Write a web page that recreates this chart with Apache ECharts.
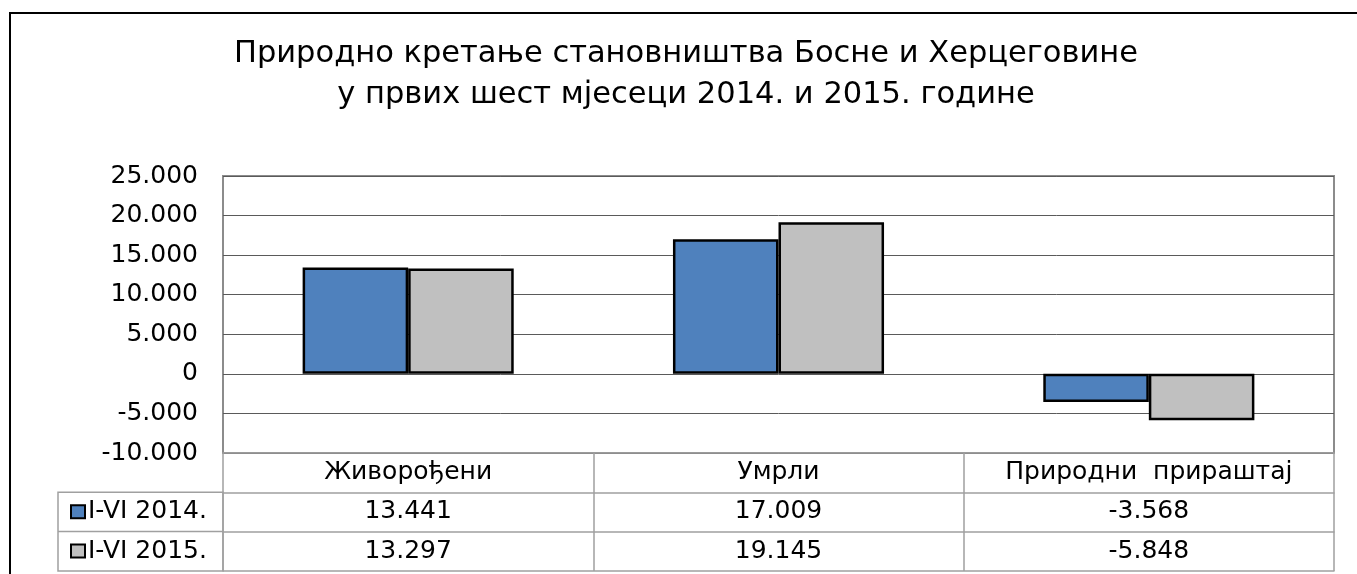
<!DOCTYPE html>
<html>
<head>
<meta charset="utf-8">
<script src="https://cdn.jsdelivr.net/npm/echarts@6/dist/echarts.min.js"></script>
<style>
html,body{margin:0;padding:0;background:#fff;}
#chart{width:1357px;height:574px;}
</style>
</head>
<body>
<div id="chart"></div>
<script>
// ---- data ----
var titleLines = ['Природно кретање становништва Босне и Херцеговине', 'у првих шест мјесеци 2014. и 2015. године'];
var categories = ['Живорођени', 'Умрли', 'Природни  прираштај'];
var seriesNames = ['I-VI 2014.', 'I-VI 2015.'];
var values2014 = [13441, 17009, -3568];
var values2015 = [13297, 19145, -5848];
var yMin = -10000, yMax = 25000, yStep = 5000;

// ---- layout ----
var W = 1357, H = 574;
var gL = 223, gR = 1334, gT = 176, gB = 453;
var rowH = 39.3;
var legL = 58;
var FONT = 'DejaVu Sans';
var lineCol = '#a0a0a0';
var txtCol = '#000';

function fmt(v) {
  var s = Math.abs(Math.round(v)).toString();
  var out = '';
  while (s.length > 3) { out = '.' + s.slice(-3) + out; s = s.slice(0, -3); }
  out = s + out;
  return (v < 0 ? '-' : '') + out;
}

var chart = echarts.init(document.getElementById('chart'), null, {renderer: 'canvas'});

function tableAxis(offsetRows, labelFn, showLabel) {
  return {
    type: 'category',
    gridIndex: 0,
    position: 'bottom',
    offset: offsetRows * rowH,
    data: categories,
    boundaryGap: true,
    axisLine: {show: true, onZero: false, lineStyle: {color: lineCol, width: 1.5}},
    axisTick: {show: showLabel, length: rowH, interval: 0, lineStyle: {color: lineCol, width: 1.5}},
    axisLabel: {
      show: showLabel, interval: 0, margin: 7, color: txtCol, fontFamily: FONT, fontSize: 25, lineHeight: 25,
      formatter: labelFn
    },
    splitLine: {show: false}
  };
}

var option = {
  animation: false,
  backgroundColor: '#fff',
  title: {
    text: titleLines.join('\n'),
    left: 686, top: 34, textAlign: 'center', padding: 0,
    textStyle: {fontFamily: FONT, fontSize: 30.5, fontWeight: 'normal', color: txtCol, lineHeight: 41}
  },
  legend: {
    orient: 'vertical', left: legL + 7, top: gB + rowH + 2, itemGap: 14.3,
    itemWidth: 14, itemHeight: 13, icon: 'rect',
    textStyle: {fontFamily: FONT, fontSize: 25, color: txtCol, lineHeight: 25, padding: [0, 0, 0, -2]},
    data: seriesNames
  },
  grid: {
    left: gL, top: gT, width: gR - gL, height: gB - gT,
    show: true, borderColor: '#8c8c8c', borderWidth: 2, backgroundColor: 'transparent'
  },
  xAxis: [
    tableAxis(0, function (v) { return v; }, true),
    tableAxis(1, function (v, i) { return fmt(values2014[i]); }, true),
    tableAxis(2, function (v, i) { return fmt(values2015[i]); }, true),
    tableAxis(3, function () { return ''; }, false)
  ],
  yAxis: {
    type: 'value', min: yMin, max: yMax, interval: yStep,
    axisLine: {show: false}, axisTick: {show: false},
    axisLabel: {margin: 25, color: txtCol, fontFamily: FONT, fontSize: 25, formatter: fmt},
    splitLine: {show: true, lineStyle: {color: '#5a5a5a', width: 1}}
  },
  series: [
    {
      name: seriesNames[0], type: 'bar', xAxisIndex: 0, data: values2014,
      barGap: '0%', barCategoryGap: '43%',
      itemStyle: {color: '#4F81BD', borderColor: '#000', borderWidth: 2.5}
    },
    {
      name: seriesNames[1], type: 'bar', xAxisIndex: 0, data: values2015,
      barGap: '0%', barCategoryGap: '43%',
      itemStyle: {color: '#C0C0C0', borderColor: '#000', borderWidth: 2.5}
    }
  ],
  graphic: [
    {type: 'rect', silent: true, shape: {x: 10, y: 13, width: W + 20, height: H + 20},
     style: {fill: 'none', stroke: '#000', lineWidth: 2}, z: 100},
    {type: 'rect', silent: true, shape: {x: legL, y: gB + rowH, width: gL - legL, height: 2 * rowH},
     style: {fill: 'none', stroke: lineCol, lineWidth: 1.5}},
    {type: 'line', silent: true, shape: {x1: legL, y1: gB + 2 * rowH, x2: gL, y2: gB + 2 * rowH},
     style: {stroke: lineCol, lineWidth: 1.5}}
  ]
};
chart.setOption(option);
</script>
</body>
</html>
